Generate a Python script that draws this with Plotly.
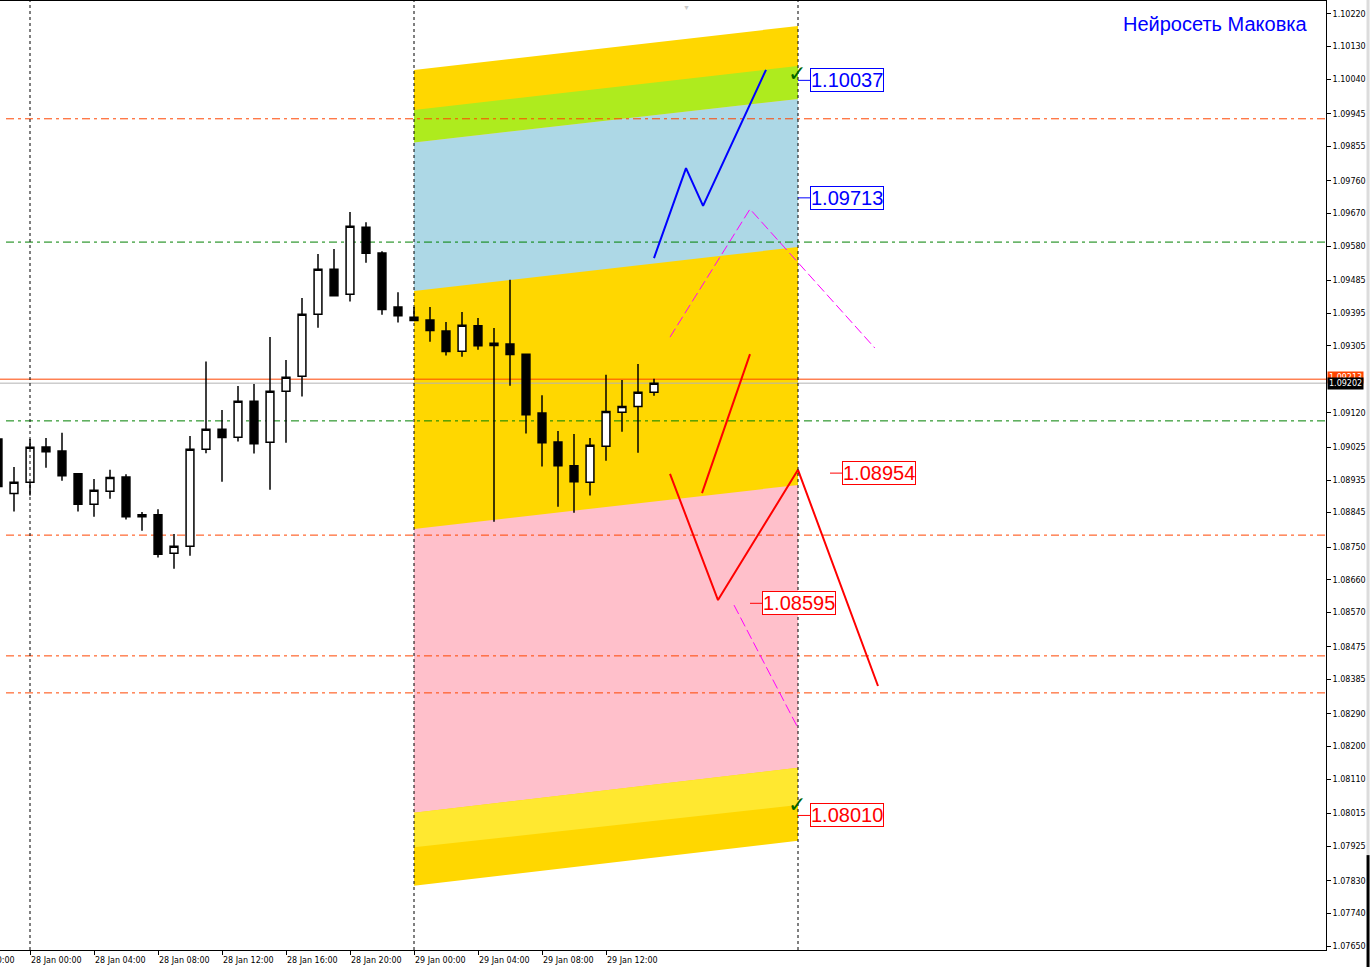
import pandas as pd
import plotly.graph_objects as go

# ---------------- data ----------------
bar_times = pd.date_range("2020-01-27 22:00", periods=42, freq="h")
opens  = [1.09048,1.08898,1.08929,1.09026,1.09015,1.08952,1.08868,1.08904,1.08943,1.08839,
          1.08839,1.08733,1.08752,1.09020,1.09075,1.09053,1.09152,1.09039,1.09180,1.09221,
          1.09392,1.09516,1.09447,1.09632,1.09561,1.09412,1.09384,1.09376,1.09346,1.09290,
          1.09360,1.09306,1.09310,1.09282,1.09120,1.09040,1.08974,1.08929,1.09028,1.09122,
          1.09138,1.09177]
highs  = [1.09054,1.08971,1.09048,1.09051,1.09065,1.08954,1.08938,1.08963,1.08951,1.08847,
          1.08854,1.08786,1.09056,1.09262,1.09128,1.09194,1.09200,1.09329,1.09266,1.09437,
          1.09558,1.09572,1.09674,1.09646,1.09566,1.09453,1.09412,1.09412,1.09371,1.09398,
          1.09382,1.09354,1.09487,1.09282,1.09169,1.09070,1.09062,1.09051,1.09225,1.09211,
          1.09255,1.09214]
lows   = [1.08913,1.08848,1.08892,1.08969,1.08933,1.08848,1.08834,1.08883,1.08826,1.08795,
          1.08721,1.08690,1.08726,1.09009,1.08930,1.09041,1.09008,1.08908,1.09038,1.09165,
          1.09355,1.09443,1.09427,1.09534,1.09391,1.09369,1.09373,1.09316,1.09278,1.09275,
          1.09294,1.08820,1.09195,1.09063,1.08972,1.08861,1.08845,1.08892,1.08988,1.09068,
          1.09010,1.09167]
closes = [1.08917,1.08929,1.09025,1.09013,1.08947,1.08868,1.08907,1.08942,1.08834,1.08834,
          1.08730,1.08752,1.09020,1.09075,1.09052,1.09152,1.09035,1.09180,1.09218,1.09392,
          1.09516,1.09443,1.09635,1.09560,1.09405,1.09388,1.09375,1.09347,1.09289,1.09362,
          1.09305,1.09312,1.09281,1.09115,1.09038,1.08974,1.08930,1.09031,1.09124,1.09138,
          1.09177,1.09202]

# forecast channel (bands), edges at 29 Jan 00:00 (left) and 30 Jan 00:00 (right)
channel_times = ["2020-01-29 00:00", "2020-01-30 00:00"]
band_colors       = ["#FFD700", "#AEEB1E", "#ADD8E6", "#FFC0CB", "#FFE830"]
band_left_top     = [1.100656, 1.099553, 1.098657, 1.087999, 1.080176]
band_right_top    = [1.101869, 1.100766, 1.099856, 1.089212, 1.081417]
band_left_bottom  = [1.078163, 1.098657, 1.094562, 1.080176, 1.079222]
band_right_bottom = [1.079404, 1.099856, 1.095775, 1.081417, 1.080388]

# horizontal levels
level_prices = [1.09931, 1.09591, 1.09098, 1.08783, 1.08450, 1.08348]
level_colors = ["#FF4500", "#008000", "#008000", "#FF4500", "#FF4500", "#FF4500"]
ask_price = 1.09213
bid_price = 1.09202

# forecast paths
blue_t = ["2020-01-29 15:00", "2020-01-29 17:00", "2020-01-29 18:04", "2020-01-29 22:00"]
blue_p = [1.09547, 1.09795, 1.09691, 1.10066]
mag1_t = ["2020-01-29 16:00", "2020-01-29 21:00", "2020-01-30 04:48"]
mag1_p = [1.09329, 1.09682, 1.09299]
mag2_t = ["2020-01-29 20:00", "2020-01-30 00:00"]
mag2_p = [1.08590, 1.08251]
redA_t = ["2020-01-29 18:00", "2020-01-29 21:00"]
redA_p = [1.08899, 1.09282]
redB_t = ["2020-01-29 16:00", "2020-01-29 19:00", "2020-01-30 00:00", "2020-01-30 05:00"]
redB_p = [1.08952, 1.08604, 1.08963, 1.08367]

# price labels
label_values = [1.10037, 1.09713, 1.08954, 1.08595, 1.08010]
label_texts  = ["1.10037", "1.09713", "1.08954", "1.08595", "1.08010"]
label_start  = ["2020-01-30 00:00", "2020-01-30 00:00", "2020-01-30 02:00", "2020-01-29 21:00", "2020-01-30 00:00"]
label_end    = ["2020-01-30 00:45", "2020-01-30 00:45", "2020-01-30 02:45", "2020-01-29 21:45", "2020-01-30 00:45"]
label_colors = ["#0000FF", "#0000FF", "#FF0000", "#FF0000", "#FF0000"]
check_prices = [1.10057, 1.08039]

# axes
y_ticks = [1.10220,1.10130,1.10040,1.09945,1.09855,1.09760,1.09670,1.09580,1.09485,1.09395,
           1.09305,1.09120,1.09025,1.08935,1.08845,1.08750,1.08660,1.08570,1.08475,1.08385,
           1.08290,1.08200,1.08110,1.08015,1.07925,1.07830,1.07740,1.07650]
x_ticks = ["2020-01-28 00:00","2020-01-28 04:00","2020-01-28 08:00","2020-01-28 12:00",
           "2020-01-28 16:00","2020-01-28 20:00","2020-01-29 00:00","2020-01-29 04:00",
           "2020-01-29 08:00","2020-01-29 12:00"]
x_tick_text = ["28 Jan 00:00","28 Jan 04:00","28 Jan 08:00","28 Jan 12:00","28 Jan 16:00",
               "28 Jan 20:00","29 Jan 00:00","29 Jan 04:00","29 Jan 08:00","29 Jan 12:00"]
vlines = ["2020-01-28 00:00", "2020-01-29 00:00", "2020-01-30 00:00"]

x_range = [pd.Timestamp("2020-01-27 22:07:30"), pd.Timestamp("2020-01-31 09:00")]
y_range = [1.07639, 1.102558]

AXFONT = dict(family="DejaVu Sans", size=8, color="black")
NOHOVER = dict(hoverinfo="skip", showlegend=False)

fig = go.Figure()

# channel bands
for c, lt, rt, lb, rb in zip(band_colors, band_left_top, band_right_top, band_left_bottom, band_right_bottom):
    fig.add_trace(go.Scatter(
        x=[channel_times[0], channel_times[1], channel_times[1], channel_times[0], channel_times[0]],
        y=[lt, rt, rb, lb, lt], mode="none", fill="toself", fillcolor=c, **NOHOVER))

# horizontal levels
for p, c in zip(level_prices, level_colors):
    fig.add_trace(go.Scatter(x=["2020-01-27 22:30", x_range[1]], y=[p, p], mode="lines",
                             line=dict(color=c, width=1, dash="8px,4px,3px,4px"), **NOHOVER))
fig.add_trace(go.Scatter(x=x_range, y=[ask_price, ask_price], mode="lines",
                         line=dict(color="#FF4500", width=1), **NOHOVER))
fig.add_trace(go.Scatter(x=x_range, y=[bid_price, bid_price], mode="lines",
                         line=dict(color="#B4B4B4", width=1), **NOHOVER))

# forecast paths
fig.add_trace(go.Scatter(x=mag1_t, y=mag1_p, mode="lines", line=dict(color="#FF00FF", width=1, dash="10px,4px"), **NOHOVER))
fig.add_trace(go.Scatter(x=mag2_t, y=mag2_p, mode="lines", line=dict(color="#FF00FF", width=1, dash="10px,4px"), **NOHOVER))
fig.add_trace(go.Scatter(x=blue_t, y=blue_p, mode="lines", line=dict(color="#0000FF", width=2), **NOHOVER))
fig.add_trace(go.Scatter(x=redA_t, y=redA_p, mode="lines", line=dict(color="#FF0000", width=2), **NOHOVER))
fig.add_trace(go.Scatter(x=redB_t, y=redB_p, mode="lines", line=dict(color="#FF0000", width=2), **NOHOVER))

# candles on an overlaid subplot so they sit above the filled bands
fig.add_trace(go.Candlestick(
    x=bar_times, open=opens, high=highs, low=lows, close=closes, xaxis="x2", yaxis="y2",
    increasing=dict(line=dict(color="black", width=1.5), fillcolor="white"),
    decreasing=dict(line=dict(color="black", width=1.5), fillcolor="black"),
    whiskerwidth=0, **NOHOVER))

# vertical separators
for v in vlines:
    fig.add_shape(type="line", xref="x", yref="paper", x0=v, x1=v, y0=0, y1=1, layer="above",
                  line=dict(color="black", width=1, dash="3px,3px"))

# labels
for v, t, s, e, c in zip(label_values, label_texts, label_start, label_end, label_colors):
    fig.add_shape(type="line", xref="x", yref="y", x0=s, x1=e, y0=v, y1=v, layer="above",
                  line=dict(color=c, width=1))
    fig.add_annotation(x=e, y=v, xref="x", yref="y", text=t, showarrow=False, xanchor="left",
                       yanchor="middle", font=dict(family="Liberation Sans", size=20, color=c),
                       bgcolor="white", bordercolor=c, borderwidth=1, borderpad=0)
for p in check_prices:
    fig.add_annotation(x=channel_times[1], y=p, xref="x", yref="y", text="✓", showarrow=False,
                       xanchor="center", yanchor="middle", xshift=-1,
                       font=dict(family="DejaVu Sans", size=22, color="#006400"))

# axis price tags
fig.add_annotation(xref="paper", yref="y", x=1, y=ask_price, xanchor="left", yanchor="middle", xshift=1, yshift=2,
                   text="1.09213", showarrow=False, bgcolor="#FF4500", borderpad=1,
                   font=dict(family="DejaVu Sans", size=8, color="white"))
fig.add_annotation(xref="paper", yref="y", x=1, y=bid_price, xanchor="left", yanchor="middle", xshift=1,
                   text="1.09202", showarrow=False, bgcolor="black", borderpad=1,
                   font=dict(family="DejaVu Sans", size=8, color="white"))

# leftmost partial time label
span = (x_range[1] - x_range[0]).total_seconds()
first_label = pd.Timestamp("2020-01-27 20:00")
fig.add_annotation(xref="paper", yref="paper", x=(first_label - x_range[0]).total_seconds() / span,
                   y=0, xanchor="left", yanchor="top", yshift=-4, xshift=-4, text="27 Jan 20:00",
                   showarrow=False, font=AXFONT)

# title
fig.add_annotation(xref="paper", yref="paper", x=0.988, y=0.976, xanchor="right", yanchor="middle",
                   text="Нейросеть Маковка", showarrow=False,
                   font=dict(family="Liberation Sans", size=20, color="#0000FF"))
fig.add_annotation(xref="x", yref="paper", x="2020-01-29 17:00", y=1.0, xanchor="center", yanchor="top",
                   text="▼", showarrow=False, font=dict(size=7, color="#C8C8C8"))

# window edge decorations
fig.add_shape(type="line", xref="paper", yref="paper", x0=1.0317, x1=1.0317, y0=0.1, y1=1.01,
              line=dict(color="#DCDCDC", width=3))
fig.add_shape(type="line", xref="paper", yref="paper", x0=1.0317, x1=1.0317, y0=-0.02, y1=0.1,
              line=dict(color="black", width=3))

fig.update_layout(
    template="none",
    width=1371, height=967, margin=dict(l=0, r=45, t=1, b=17, autoexpand=False),
    paper_bgcolor="white", plot_bgcolor="white", showlegend=False,
    xaxis=dict(type="date", range=x_range, rangeslider=dict(visible=False), automargin=False,
               tickvals=x_ticks, ticktext=x_tick_text, ticks="outside", ticklen=4,
               tickcolor="black", ticklabelposition="outside right", tickfont=AXFONT,
               ticklabelstandoff=2,
               showline=True, linecolor="black", linewidth=1, mirror=True,
               showgrid=False, zeroline=False),
    yaxis=dict(side="right", range=y_range, tickvals=y_ticks, automargin=False,
               ticktext=[f"{v:.5f}" for v in y_ticks], ticks="outside", ticklen=4,
               tickcolor="black", tickfont=AXFONT, showline=True, linecolor="black",
               linewidth=1, mirror=True, showgrid=False, zeroline=False),
    xaxis2=dict(type="date", range=x_range, overlaying="x", visible=False,
                rangeslider=dict(visible=False), automargin=False),
    yaxis2=dict(range=y_range, overlaying="y", visible=False, automargin=False),
)

fig.write_html("out.html", config={"displayModeBar": False},
               post_script="document.body.style.margin='0';document.body.style.padding='0';"
                           "document.body.style.overflow='hidden';")
